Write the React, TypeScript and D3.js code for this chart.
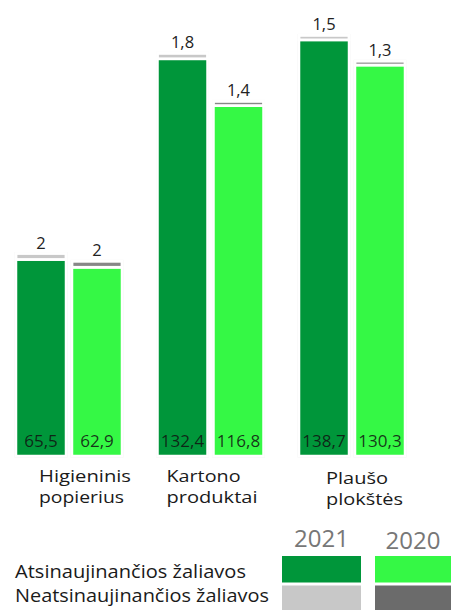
import React from "react";
import * as d3 from "d3";

const categories = ["Higieninis popierius", "Kartono produktai", "Plaušo plokštės"];
const categoryLines = [["Higieninis", "popierius"], ["Kartono", "produktai"], ["Plaušo", "plokštės"]];
const years = ["2021", "2020"];
const renewable2021 = [65.5, 132.4, 138.7];
const renewable2020 = [62.9, 116.8, 130.3];
const nonRenewable2021 = [2, 1.8, 1.5];
const nonRenewable2020 = [2, 1.4, 1.3];
const legendLabels = ["Atsinaujinančios žaliavos", "Neatsinaujinančios žaliavos"];

const W = 451;
const H = 610;
const FONT = "'Open Sans', 'DejaVu Sans', sans-serif";
const greenColors: Record<string, string> = { "2021": "#00963a", "2020": "#35f845" };
const grayColors: Record<string, string> = { "2021": "#c8c8c8", "2020": "#6b6b6b" };
const labelOffsets = [23, 9, 27];
const labelWidths = [[92, 85], [74, 91], [62, 77]];
const legendWidths = [231, 254];

const fmt = (v: number) => String(v).replace(".", ",");

export default function App() {
  const x0 = d3.scaleBand<string>().domain(categories).range([16, 405]).paddingInner(0.251).paddingOuter(0);
  const x1 = d3.scaleBand<string>().domain(years).range([0, x0.bandwidth()]).paddingInner(0.107).paddingOuter(0);
  const y = d3.scaleLinear().domain([0, 150]).range([456, 6]);

  const series: Record<string, { green: number[]; gray: number[] }> = {
    "2021": { green: renewable2021, gray: nonRenewable2021 },
    "2020": { green: renewable2020, gray: nonRenewable2020 },
  };

  return (
    <svg width={W} height={H} style={{ position: "absolute", left: 0, top: 0, background: "#fff" }} fontFamily={FONT}>
      {categories.map((c, i) => (
        <g key={c} transform={`translate(${x0(c)},0)`}>
          {years.map((yr) => {
            const g = series[yr].green[i];
            const n = series[yr].gray[i];
            const bx = x1(yr)!;
            const bw = x1.bandwidth();
            const topY = y(g + n);
            return (
              <g key={yr}>
                <rect x={bx - 1.5} y={topY - 1.5} width={bw + 3} height={y(0) - topY + 3} fill="#f3f3f3" />
                <rect x={bx} y={y(g)} width={bw} height={y(0) - y(g)} fill={greenColors[yr]} stroke="#fff" strokeWidth={2.5} />
                <rect x={bx} y={topY} width={bw} height={y(g) - topY} fill={grayColors[yr]} fillOpacity={yr === "2020" ? 0.8 : 1} stroke="#fff" strokeWidth={2.8} />
                <text x={bx + bw / 2} y={topY - 5} textAnchor="middle" fontSize={16.5} fill="#222">{fmt(n)}</text>
                <text x={bx + bw / 2} y={447} textAnchor="middle" fontSize={17} fill="#111" fillOpacity={0.85}>{fmt(g)}</text>
              </g>
            );
          })}
          <text x={labelOffsets[i]} y={482 + (i === 2 ? 2 : 0)} fontSize={17} fill="#1a1a1a" textLength={labelWidths[i][0]} lengthAdjust="spacingAndGlyphs">{categoryLines[i][0]}</text>
          <text x={labelOffsets[i]} y={503 + (i === 2 ? 2 : 0)} fontSize={17} fill="#1a1a1a" textLength={labelWidths[i][1]} lengthAdjust="spacingAndGlyphs">{categoryLines[i][1]}</text>
        </g>
      ))}
      {years.map((yr, j) => {
        const lx = j === 0 ? 282 : 375;
        const lw = j === 0 ? 79 : 76;
        return (
          <g key={yr}>
            <text x={lx + lw / 2} y={547 + j * 2} textAnchor="middle" fontSize={24} fill="#777">{yr}</text>
            <rect x={lx} y={556} width={lw} height={26.5} fill={greenColors[yr]} />
            <rect x={lx} y={585.5} width={lw} height={25} fill={grayColors[yr]} />
          </g>
        );
      })}
      {legendLabels.map((l, k) => (
        <text key={l} x={15} y={578 + k * 24} fontSize={17.5} fill="#1a1a1a" textLength={legendWidths[k]} lengthAdjust="spacingAndGlyphs">{l}</text>
      ))}
    </svg>
  );
}
